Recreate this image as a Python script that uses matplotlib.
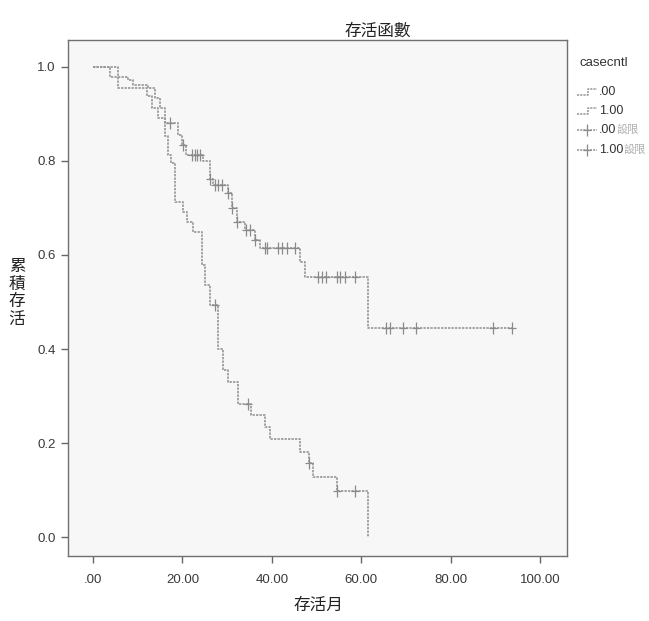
import numpy as np
import matplotlib
matplotlib.use('Agg')
import matplotlib.pyplot as plt
from matplotlib.lines import Line2D

plt.rcParams['font.family'] = ['Liberation Sans', 'Noto Sans CJK TC', 'DejaVu Sans']

# group .00 (upper curve): event times and survival after each step
t_00 = [0, 5.6, 7.8, 9.0, 12.3, 13.9, 15.0, 16.1, 19.1, 19.8, 20.9, 24.6, 26.1, 26.8,
        30.2, 31.0, 32.1, 34.0, 36.2, 37.3, 46.3, 47.4, 61.5]
s_00 = [1.0, 0.978, 0.972, 0.962, 0.954, 0.933, 0.912, 0.880, 0.855, 0.834, 0.813, 0.800,
        0.761, 0.749, 0.731, 0.699, 0.671, 0.653, 0.632, 0.614, 0.586, 0.554, 0.444]
c_00 = [17.2, 20.1, 22.1, 22.8, 23.2, 23.9, 26.1, 27.3, 28.0, 28.8, 30.2, 31.0, 32.1,
        34.3, 35.1, 36.2, 38.4, 38.8, 41.4, 42.2, 43.3, 45.2, 50.3, 51.1, 52.2, 54.5,
        55.2, 56.3, 58.5, 65.6, 66.4, 69.3, 72.3, 89.5, 93.6]
end_00 = 93.6

# group 1.00 (lower curve)
t_10 = [0, 3.8, 5.6, 12.0, 13.1, 14.6, 16.1, 16.8, 17.5, 18.3, 20.2, 21.0, 22.4, 24.3,
        25.0, 26.2, 28.0, 29.1, 30.2, 32.5, 35.4, 38.4, 39.6, 46.3, 48.3, 49.2, 54.5, 61.5]
s_10 = [1.0, 0.978, 0.956, 0.937, 0.912, 0.891, 0.852, 0.813, 0.795, 0.713, 0.692, 0.671,
        0.648, 0.579, 0.536, 0.494, 0.401, 0.355, 0.330, 0.284, 0.260, 0.235, 0.208, 0.181,
        0.158, 0.128, 0.098, 0.0]
c_10 = [27.3, 34.6, 48.3, 54.5, 58.5]
end_10 = 61.5

x_ticks = [0, 20, 40, 60, 80, 100]
x_labels = ['.00', '20.00', '40.00', '60.00', '80.00', '100.00']
y_ticks = [0.0, 0.2, 0.4, 0.6, 0.8, 1.0]
y_labels = ['0.0', '0.2', '0.4', '0.6', '0.8', '1.0']
leg_labels = ['.00', '1.00', '.00', '1.00']

line_col = '#959595'
mark_col = '#8a8a8a'
ls = (0, (1.4, 0.7))
W, H = 649, 621


def surv_at(t, s, x):
    idx = np.searchsorted(np.array(t), np.array(x), side='right') - 1
    return np.array(s)[idx]


def fx(px):
    return px / W


def fy(py):
    return 1 - py / H


fig = plt.figure(figsize=(6.49, 6.21), dpi=100)
ax = fig.add_axes([fx(68), fy(556), (567 - 68) / W, (556 - 40) / H])
ax.set_facecolor('#f7f7f7')

for t, s, c, end in [(t_00, s_00, c_00, end_00), (t_10, s_10, c_10, end_10)]:
    tt = list(t) + [end]
    ss = list(s) + [s[-1]]
    ax.step(tt, ss, where='post', color=line_col, lw=1.2, ls=ls)
    cy = surv_at(t, s, c)
    ax.plot(c, cy, ls='none', marker='|', ms=9, mew=0.9, color=mark_col)
    ax.plot(c, cy, ls='none', marker='_', ms=6, mew=0.9, color=mark_col)

ax.set_xlim(-5.6, 106)
ax.set_ylim(-0.04, 1.057)
ax.set_xticks(x_ticks)
ax.set_xticklabels(x_labels)
ax.set_yticks(y_ticks)
ax.set_yticklabels(y_labels)
ax.tick_params(direction='out', length=5, width=1, colors='#666666', labelsize=9.5,
               labelcolor='#3a3a3a')
ax.tick_params(axis='x', pad=8)
ax.tick_params(axis='y', pad=4)
for sp in ax.spines.values():
    sp.set_color('#707070')
    sp.set_linewidth(1.0)

cjk = ['Noto Sans CJK TC']
fig.text(fx(378), fy(31), '存活函數', ha='center', va='center', fontsize=12,
         family=cjk, color='#222222')
fig.text(fx(318), fy(605), '存活月', ha='center', va='center', fontsize=12,
         family=cjk, color='#222222')
fig.text(fx(17), fy(293), '累\n積\n存\n活', ha='center', va='center', fontsize=12,
         family=cjk, color='#222222', linespacing=1.05)

# legend drawn by hand to match the SPSS layout
fig.text(fx(580), fy(63), 'casecntl', ha='left', va='center', fontsize=9.5, color='#333333')
rows = [92, 111, 130, 150]
renderer = fig.canvas.get_renderer()
for i, (row, lab) in enumerate(zip(rows, leg_labels)):
    if i < 2:
        fig.add_artist(Line2D([fx(577), fx(588), fx(588), fx(597)],
                              [fy(row + 3), fy(row + 3), fy(row - 3), fy(row - 3)],
                              color=line_col, lw=1.1, ls=ls))
        fig.text(fx(599), fy(row), lab, ha='left', va='center', fontsize=9,
                 color='#333333')
    else:
        fig.add_artist(Line2D([fx(577), fx(597)], [fy(row), fy(row)],
                              color=line_col, lw=1.1, ls=ls))
        fig.add_artist(Line2D([fx(587)], [fy(row)], marker='|', ms=9, mew=0.9,
                              color=mark_col))
        fig.add_artist(Line2D([fx(587)], [fy(row)], marker='_', ms=6, mew=0.9,
                              color=mark_col))
        t1 = fig.text(fx(599), fy(row), lab, ha='left', va='center', fontsize=9,
                      color='#333333')
        x1 = t1.get_window_extent(renderer).x1
        fig.text(x1 / W + 0.5 / W, fy(row), '設限', ha='left', va='center',
                 fontsize=8, family=cjk, color='#b0b0b0')

fig.savefig('out.png', dpi=100)
